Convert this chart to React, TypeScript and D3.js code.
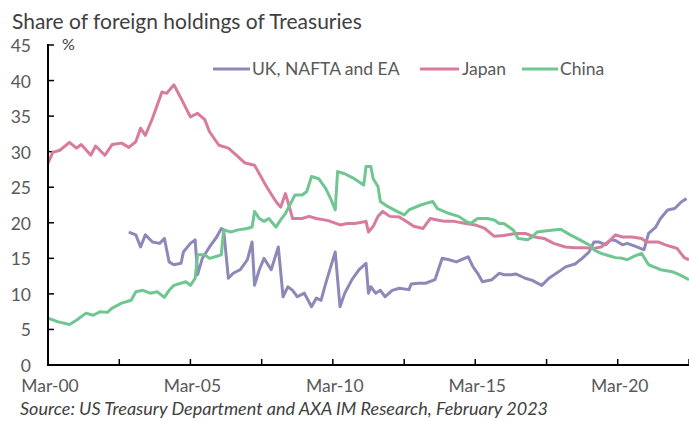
import React from "react";
import * as d3 from "d3";

const title = "Share of foreign holdings of Treasuries";
const source = "Source: US Treasury Department and AXA IM Research, February 2023";
const yTicks = [0, 5, 10, 15, 20, 25, 30, 35, 40, 45];
const xTickLabels = ["Mar-00", "Mar-05", "Mar-10", "Mar-15", "Mar-20"];
const seriesNames = ["UK, NAFTA and EA", "Japan", "China"];
const seriesColors = ["#8c89b9", "#d87b9c", "#6fc691"];

const japanDates = ["2000-03","2000-05","2000-08","2000-12","2001-03","2001-05","2001-09","2001-11","2002-03","2002-06","2002-10","2003-01","2003-04","2003-06","2003-08","2003-11","2004-03","2004-05","2004-08","2004-11","2005-03","2005-06","2005-09","2005-11","2006-03","2006-07","2006-11","2007-02","2007-06","2007-11","2008-03","2008-05","2008-07","2008-08","2008-10","2009-02","2009-05","2009-08","2010-01","2010-06","2010-09","2010-12","2011-02","2011-05","2011-06","2011-08","2011-10","2011-12","2012-03","2012-07","2012-09","2013-01","2013-05","2013-08","2013-11","2014-02","2014-06","2014-11","2015-03","2015-07","2015-11","2016-03","2016-08","2016-12","2017-04","2017-08","2017-12","2018-05","2018-09","2019-01","2019-05","2019-08","2019-12","2020-02","2020-05","2020-09","2021-01","2021-03","2021-08","2021-11","2022-02","2022-04","2022-07","2022-09"];
const japanValues = [28.4,29.9,30.2,31.3,30.5,31.0,29.5,30.8,29.5,31.0,31.2,30.6,31.4,33.3,32.3,34.7,38.4,38.2,39.4,37.5,34.9,35.4,34.5,32.8,30.9,30.5,29.3,28.4,28.1,25.1,23.0,22.2,24.1,23.0,20.6,20.6,20.9,20.6,20.3,19.7,19.9,19.9,20.0,20.2,18.7,19.5,20.9,21.6,20.9,20.8,20.4,19.5,19.2,20.6,20.4,20.2,20.2,19.9,19.7,19.2,18.1,18.2,18.5,18.5,18.0,17.8,17.1,16.6,16.5,16.5,16.4,16.6,17.6,18.3,18.0,18.0,17.8,17.3,17.3,16.9,16.6,16.4,15.1,14.8];

const chinaDates = ["2000-03","2000-07","2000-12","2001-03","2001-07","2001-10","2002-01","2002-04","2002-06","2002-10","2003-02","2003-04","2003-07","2003-10","2004-01","2004-04","2004-06","2004-08","2005-01","2005-03","2005-05","2005-06","2005-09","2005-11","2006-02","2006-04","2006-05","2006-08","2006-11","2007-03","2007-05","2007-06","2007-08","2007-10","2007-12","2008-03","2008-05","2008-07","2008-11","2009-02","2009-04","2009-06","2009-09","2009-12","2010-02","2010-04","2010-05","2010-08","2010-12","2011-04","2011-05","2011-07","2011-08","2011-10","2011-11","2012-02","2012-06","2012-09","2012-11","2013-04","2013-07","2013-09","2013-11","2014-04","2014-08","2014-11","2015-01","2015-04","2015-08","2015-11","2016-01","2016-03","2016-07","2016-09","2017-01","2017-03","2017-05","2017-10","2018-03","2018-07","2018-11","2019-03","2019-05","2019-08","2019-12","2020-02","2020-05","2020-07","2020-10","2021-01","2021-04","2021-07","2021-09","2022-02","2022-05","2022-09"];
const chinaValues = [6.6,6.1,5.7,6.3,7.3,7.0,7.5,7.4,8.0,8.7,9.1,10.3,10.5,10.1,10.3,9.5,10.5,11.2,11.7,11.2,12.2,15.5,15.5,15.0,15.3,15.5,19.0,18.7,19.0,19.2,19.4,21.6,20.6,20.2,20.6,19.4,20.4,21.3,23.9,23.9,24.4,26.5,26.2,24.8,23.4,21.8,27.2,26.9,26.2,25.3,27.9,27.9,26.2,25.1,23.0,22.3,21.6,21.1,21.8,22.5,22.8,23.0,22.0,21.3,20.9,20.2,19.9,20.6,20.6,20.4,19.9,19.9,19.0,17.8,17.6,18.0,18.7,18.9,19.1,18.3,17.6,16.9,16.2,15.7,15.3,15.1,15.0,14.8,15.3,15.7,14.1,13.7,13.4,13.1,12.7,12.0];

const ukDates = ["2003-01","2003-04","2003-06","2003-08","2003-11","2004-02","2004-04","2004-06","2004-08","2004-11","2004-12","2005-03","2005-05","2005-06","2005-08","2005-11","2006-02","2006-04","2006-05","2006-07","2006-09","2006-12","2007-03","2007-05","2007-06","2007-08","2007-10","2008-01","2008-04","2008-06","2008-08","2008-10","2008-12","2009-03","2009-06","2009-08","2009-10","2009-12","2010-04","2010-06","2010-08","2010-11","2011-02","2011-05","2011-06","2011-07","2011-09","2011-11","2012-01","2012-04","2012-07","2012-11","2012-12","2013-03","2013-06","2013-10","2014-01","2014-04","2014-07","2014-09","2014-12","2015-02","2015-04","2015-06","2015-10","2016-01","2016-03","2016-06","2016-08","2016-12","2017-03","2017-07","2017-10","2018-02","2018-05","2018-09","2018-12","2019-03","2019-05","2019-07","2019-10","2019-12","2020-02","2020-05","2020-07","2020-11","2021-02","2021-04","2021-07","2021-09","2021-12","2022-03","2022-06","2022-08"];
const ukValues = [18.7,18.3,16.6,18.3,17.3,17.1,17.8,14.5,14.1,14.3,15.9,17.1,17.6,12.7,15.0,16.6,18.0,19.2,19.0,12.2,12.9,13.4,14.8,17.3,11.2,13.4,15.0,13.4,16.6,9.6,11.0,10.5,9.6,10.1,8.2,9.4,9.1,11.5,15.9,8.2,10.1,12.0,13.4,14.3,10.1,11.0,10.1,10.5,9.6,10.5,10.8,10.6,11.4,11.5,11.5,12.0,15.0,14.8,14.5,14.8,15.2,13.8,12.9,11.7,12.0,12.9,12.7,12.7,12.8,12.2,11.9,11.2,12.2,13.1,13.8,14.2,15.0,15.9,17.3,17.3,16.9,17.6,17.5,16.9,17.1,16.6,16.2,18.5,19.4,20.6,21.8,22.0,23.0,23.4];

const W = 689;
const H = 421;
const FONT = "Lato, 'Open Sans', sans-serif";

const parse = (s: string) => {
  const [y, m] = s.split("-").map(Number);
  return new Date(y, m - 1, 1);
};

export default function App() {
  const x = d3.scaleTime().domain([new Date(2000, 2, 1), new Date(2022, 8, 1)]).range([48, 689]);
  const y = d3.scaleLinear().domain([0, 45]).range([365, 45]);

  const series = [
    { dates: ukDates, values: ukValues },
    { dates: japanDates, values: japanValues },
    { dates: chinaDates, values: chinaValues },
  ];
  const line = d3
    .line<[Date, number]>()
    .x((d) => x(d[0]))
    .y((d) => y(d[1]));

  const xTicks = d3.range(0, 271, 30).map((m) => new Date(2000, 2 + m, 1));
  const xLabelDates = xTickLabels.map((_, i) => new Date(2000 + 5 * i, 2, 1));

  const legendItems = [
    { x1: 213, x2: 250, tx: 252 },
    { x1: 420, x2: 459, tx: 462 },
    { x1: 522, x2: 558, tx: 560 },
  ];

  return (
    <svg width={W} height={H} style={{ position: "absolute", left: 0, top: 0, background: "#fff" }}>
      <text x={12} y={29} fontFamily={FONT} fontSize={21} fill="#404040">{title}</text>
      <text x={62} y={50} fontFamily={FONT} fontSize={16} fill="#404040">%</text>

      {yTicks.map((t) => (
        <g key={t}>
          <line x1={48} x2={54} y1={y(t)} y2={y(t)} stroke="#000" strokeWidth={1.5} />
          <text x={31} y={y(t) + 7} textAnchor="end" fontFamily={FONT} fontSize={17.5} fill="#595959">{t}</text>
        </g>
      ))}
      {xTicks.map((d, i) => (
        <line key={i} x1={x(d)} x2={x(d)} y1={359} y2={365} stroke="#000" strokeWidth={1.5} />
      ))}
      {xTickLabels.map((l, i) => (
        <text key={l} x={x(xLabelDates[i]) + 2} y={392} textAnchor="middle" fontFamily={FONT} fontSize={17.5} fill="#595959">{l}</text>
      ))}

      {series.map((s, i) => (
        <path
          key={i}
          d={line(s.dates.map((dt, j) => [parse(dt), s.values[j]] as [Date, number])) || ""}
          fill="none"
          stroke={seriesColors[i]}
          strokeWidth={3}
          strokeLinejoin="round"
        />
      ))}

      <line x1={48} x2={48} y1={44} y2={366} stroke="#000" strokeWidth={2} />
      <line x1={47} x2={689} y1={365} y2={365} stroke="#000" strokeWidth={2} />

      {seriesNames.map((n, i) => (
        <g key={n}>
          <line x1={legendItems[i].x1} x2={legendItems[i].x2} y1={69} y2={69} stroke={seriesColors[i]} strokeWidth={3} />
          <text x={legendItems[i].tx} y={75} fontFamily={FONT} fontSize={17.5} fill="#595959">{n}</text>
        </g>
      ))}

      <text x={20} y={415} fontFamily={FONT} fontSize={18} fontStyle="italic" fill="#404040">{source}</text>
    </svg>
  );
}
